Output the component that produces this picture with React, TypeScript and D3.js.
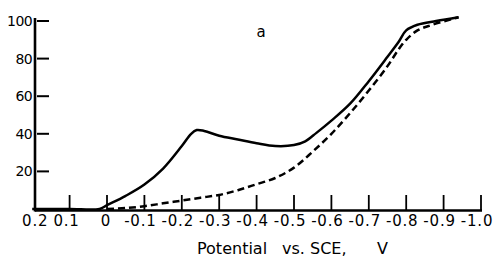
import React from "react";
import * as d3 from "d3";

const xTickValues = [0.2, 0.1, 0, -0.1, -0.2, -0.3, -0.4, -0.5, -0.6, -0.7, -0.8, -0.9, -1.0];
const xTickLabels = ["0.2", "0.1", "0", "-0.1", "-0.2", "-0.3", "-0.4", "-0.5", "-0.6", "-0.7", "-0.8", "-0.9", "-1.0"];
const yTickValues = [20, 40, 60, 80, 100];
const yTickLabels = ["20", "40", "60", "80", "100"];

const potentialSolid = [0.2, 0.1, 0.02, 0, -0.05, -0.1, -0.15, -0.2, -0.225, -0.24, -0.26, -0.3, -0.35, -0.4, -0.45, -0.5, -0.53, -0.56, -0.6, -0.65, -0.7, -0.75, -0.78, -0.8, -0.83, -0.88, -0.94];
const valuesSolid = [0, 0, 0, 2, 7, 13, 21.5, 33.5, 40, 42, 41.5, 39, 37, 35, 33.5, 34, 36, 40.5, 47, 56, 68, 81, 89, 95, 98, 100, 102];

const potentialDashed = [0.0, -0.05, -0.1, -0.15, -0.2, -0.25, -0.3, -0.35, -0.4, -0.45, -0.5, -0.55, -0.6, -0.65, -0.7, -0.75, -0.78, -0.8, -0.83, -0.87, -0.94];
const valuesDashed = [0, 0.5, 1.5, 3, 4.5, 6, 7.5, 10, 13.2, 16.5, 22, 30.5, 40, 51, 63, 76, 85, 90, 95, 98, 102];

const panelLabel = "a";

export default function App() {
  const x = d3.scaleLinear().domain([0.2, -1.0]).range([32.2, 481]);
  const y = d3.scaleLinear().domain([0, 100]).range([209, 21]);

  const line = d3
    .line<[number, number]>()
    .x((d) => x(d[0]))
    .y((d) => y(d[1]))
    .curve(d3.curveCatmullRom.alpha(0.5));

  const solidPts = potentialSolid.map((p, i) => [p, valuesSolid[i]] as [number, number]);
  const dashedPts = potentialDashed.map((p, i) => [p, valuesDashed[i]] as [number, number]);

  const font = "'DejaVu Sans', sans-serif";
  const axisY = 210.5;
  const yAxisX = 35;

  return (
    <svg
      width={493}
      height={257}
      style={{ position: "absolute", left: 0, top: 0, background: "#fff" }}
      fontFamily={font}
    >
      {/* y axis */}
      <line x1={yAxisX} x2={yAxisX} y1={18} y2={axisY + 1} stroke="#000" strokeWidth={2.6} />
      {yTickValues.map((v, i) => (
        <g key={v}>
          <line x1={37} x2={49} y1={y(v)} y2={y(v)} stroke="#000" strokeWidth={2} />
          <text x={32} y={y(v)} dy="0.36em" textAnchor="end" fontSize={14} letterSpacing={-0.6}>
            {yTickLabels[i]}
          </text>
        </g>
      ))}
      {/* x axis */}
      <line x1={yAxisX} x2={482} y1={axisY} y2={axisY} stroke="#000" strokeWidth={2.6} />
      {xTickValues.map((v, i) => (
        <g key={v}>
          {i > 0 && (
            <line x1={x(v)} x2={x(v)} y1={195} y2={axisY} stroke="#000" strokeWidth={1.8} />
          )}
          <text
            x={x(v) + (v < 0 ? -4 : v === 0 ? -1 : v === 0.2 ? 3 : -3)}
            y={225.5}
            textAnchor="middle"
            fontSize={15}
            letterSpacing={0.8}
          >
            {xTickLabels[i]}
          </text>
        </g>
      ))}
      {/* curves */}
      <path d={line(solidPts) || ""} fill="none" stroke="#000" strokeWidth={2.5} strokeLinejoin="round" />
      <path
        d={line(dashedPts) || ""}
        fill="none"
        stroke="#000"
        strokeWidth={2.5}
        strokeDasharray="7,4"
      />
      {/* panel label */}
      <text x={261} y={37} textAnchor="middle" fontSize={15}>
        {panelLabel}
      </text>
      {/* axis title */}
      <text x={197} y={254} fontSize={16}>
        Potential
      </text>
      <text x={282} y={254} fontSize={16}>
        vs. SCE,
      </text>
      <text x={377} y={254} fontSize={16}>
        V
      </text>
    </svg>
  );
}
